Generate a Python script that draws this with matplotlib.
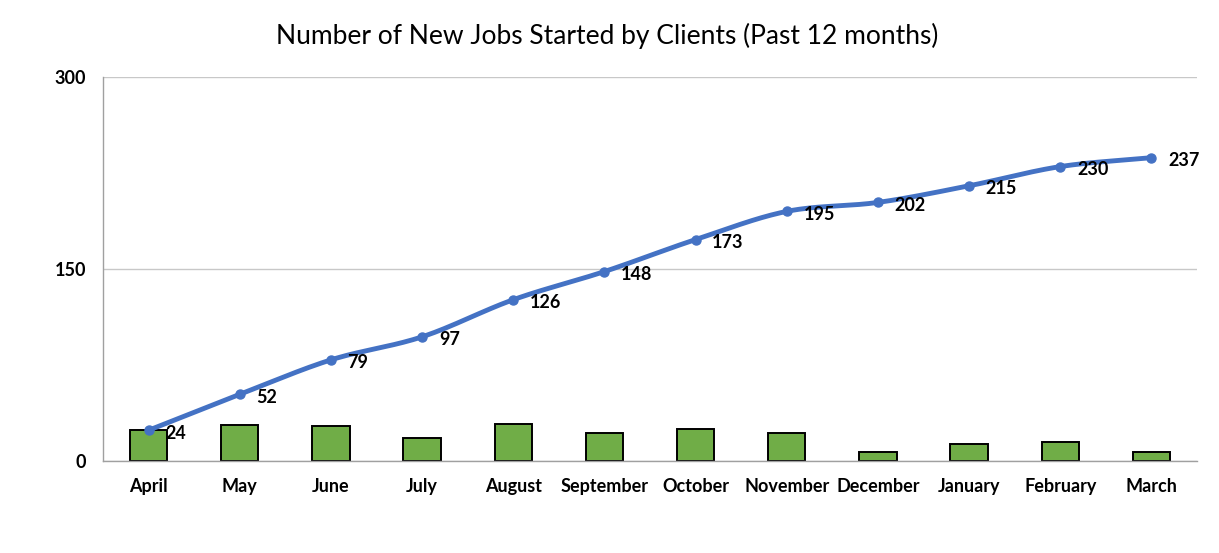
import numpy as np
import matplotlib.pyplot as plt

months = ['April', 'May', 'June', 'July', 'August', 'September', 'October',
          'November', 'December', 'January', 'February', 'March']
new_jobs = [24, 28, 27, 18, 29, 22, 25, 22, 7, 13, 15, 7]
cumulative = [24, 52, 79, 97, 126, 148, 173, 195, 202, 215, 230, 237]

BLUE = '#4472C4'
GREEN = '#70AD47'
GRID = '#C8C8C8'
FONT = 'Lato'


def smooth(x, y, n=30):
    # Catmull-Rom style curve through the points, like Excel's smoothed line
    x = np.asarray(x, float)
    y = np.asarray(y, float)
    px = np.concatenate([[2 * x[0] - x[1]], x, [2 * x[-1] - x[-2]]])
    py = np.concatenate([[2 * y[0] - y[1]], y, [2 * y[-1] - y[-2]]])
    xs, ys = [], []
    t = np.linspace(0, 1, n)
    for i in range(1, len(px) - 2):
        for p, out in ((px, xs), (py, ys)):
            p0, p1, p2, p3 = p[i - 1], p[i], p[i + 1], p[i + 2]
            out.append(0.5 * ((2 * p1) + (-p0 + p2) * t
                              + (2 * p0 - 5 * p1 + 4 * p2 - p3) * t ** 2
                              + (-p0 + 3 * p1 - 3 * p2 + p3) * t ** 3))
    return np.concatenate(xs), np.concatenate(ys)


fig = plt.figure(figsize=(12.19, 5.53), dpi=100)
ax = fig.add_axes([0.0845, 0.1664, 0.8975, 0.6944])

x = np.arange(len(months))
ax.bar(x, new_jobs, width=0.41, color=GREEN, edgecolor='black', lw=1.4, zorder=2)

sx, sy = smooth(x, cumulative)
ax.plot(sx, sy, color=BLUE, lw=3.5, solid_capstyle='round', zorder=3)
ax.plot(x, cumulative, 'o', color=BLUE, ms=6.5, zorder=4)

for xi, v in zip(x, cumulative):
    ax.annotate(str(v), (xi, v), xytext=(12, -2), textcoords='offset points',
                ha='left', va='center', fontsize=13, fontweight='bold',
                family=FONT, zorder=5)

ax.set_xlim(-0.5, len(months) - 0.5)
ax.set_ylim(0, 300)
ax.set_yticks([0, 150, 300])
ax.set_xticks(x)
ax.set_xticklabels(months)
ax.yaxis.grid(True, color=GRID, lw=1)
ax.set_axisbelow(True)
for s in ('top', 'right'):
    ax.spines[s].set_visible(False)
for s in ('left', 'bottom'):
    ax.spines[s].set_color('#A0A0A0')
    ax.spines[s].set_linewidth(1)
ax.tick_params(length=0)
ax.tick_params(axis='y', pad=12)
ax.tick_params(axis='x', pad=12)
for lab in ax.get_xticklabels() + ax.get_yticklabels():
    lab.set_family(FONT)
    lab.set_fontweight('bold')
    lab.set_fontsize(13)

fig.text(0.498, 0.935, 'Number of New Jobs Started by Clients (Past 12 months)',
         ha='center', va='center', fontsize=19, family=FONT)

fig.savefig('out.png', dpi=100)
